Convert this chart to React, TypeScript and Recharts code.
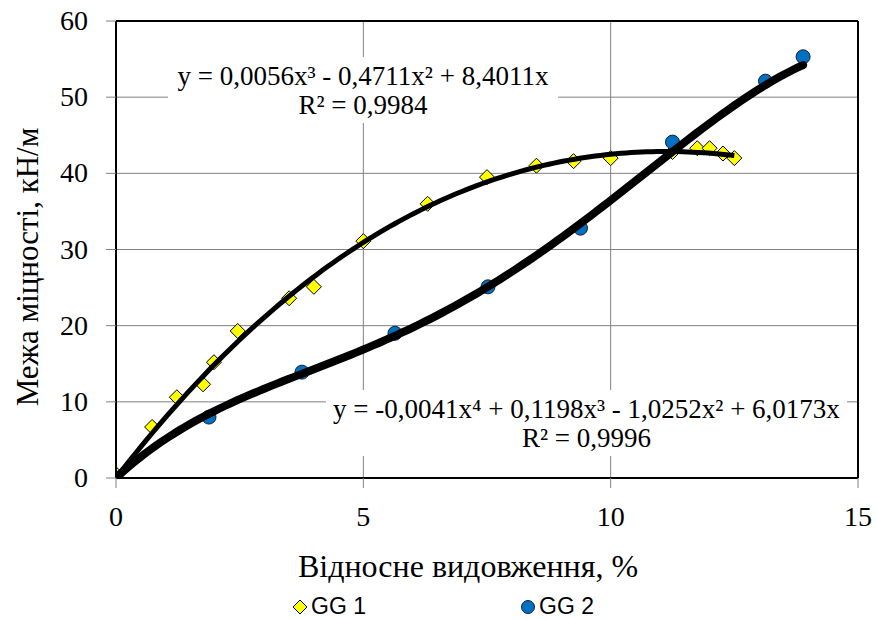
import React from 'react';
import {
  ComposedChart, Line, Scatter, XAxis, YAxis, CartesianGrid, ReferenceLine, Legend,
} from 'recharts';

// measured points
const GG1_X = [0, 0.73, 1.23, 1.76, 1.98, 2.46, 3.5, 4.0, 5.0, 6.3, 7.5, 8.5, 9.25, 10.0, 11.25, 11.75, 12.0, 12.27, 12.5];
const GG1_Y = [0.5, 6.7, 10.6, 12.3, 15.2, 19.3, 23.6, 25.1, 31.1, 36.0, 39.5, 41.0, 41.6, 42.0, 42.8, 43.3, 43.3, 42.6, 42.0];
const GG2_X = [0, 1.88, 3.76, 5.64, 7.52, 9.39, 11.25, 13.13, 13.89];
const GG2_Y = [0, 8.0, 13.9, 19.0, 25.1, 32.8, 44.1, 52.1, 55.3];

// trendline coefficients (c0 + c1*x + c2*x^2 ...), as printed on the chart
const TREND1_COEF = [0, 8.4011, -0.4711, 0.0056];
const TREND1_RANGE = [0, 12.5];
const TREND2_COEF = [0, 6.0173, -1.0252, 0.1198, -0.0041];
const TREND2_RANGE = [0, 13.89];

const X_TICKS = [0, 5, 10, 15];
const Y_TICKS = [0, 10, 20, 30, 40, 50, 60];

const EQ1 = ['y = 0,0056x³ - 0,4711x² + 8,4011x', 'R² = 0,9984'];
const EQ2 = ['y = -0,0041x⁴ + 0,1198x³ - 1,0252x² + 6,0173x', 'R² = 0,9996'];

const SERIF = 'Liberation Serif, serif';
const SANS = 'Liberation Sans, Arial, sans-serif';

const toPoints = (xs: number[], ys: number[]) => xs.map((x, i) => ({ x, y: ys[i] }));

const trendPoints = (coef: number[], range: number[]) => {
  const pts: { x: number; y: number }[] = [];
  const n = 120;
  for (let i = 0; i <= n; i++) {
    const x = range[0] + ((range[1] - range[0]) * i) / n;
    const y = coef.reduce((s, c, k) => s + c * Math.pow(x, k), 0);
    pts.push({ x, y });
  }
  return pts;
};

const gg1 = toPoints(GG1_X, GG1_Y);
const gg2 = toPoints(GG2_X, GG2_Y);
const trend1 = trendPoints(TREND1_COEF, TREND1_RANGE);
const trend2 = trendPoints(TREND2_COEF, TREND2_RANGE);

const Diamond = (props: any) => {
  const { cx, cy } = props;
  const r = 7.5;
  return (
    <polygon
      points={`${cx},${cy - r} ${cx + r},${cy} ${cx},${cy + r} ${cx - r},${cy}`}
      fill="#FFFF00"
      stroke="#000"
      strokeWidth={1}
    />
  );
};

const Dot = (props: any) => {
  const { cx, cy } = props;
  return <circle cx={cx} cy={cy} r={7} fill="#0070C0" stroke="#102040" strokeWidth={1} />;
};

const XTick = ({ x, y, payload }: any) => (
  <text x={x} y={y + 20} textAnchor="middle" style={{ fontFamily: SERIF, fontSize: 28, fill: '#000' }}>
    {payload.value}
  </text>
);

const YTick = ({ x, y, payload }: any) => (
  <text x={x} y={y + 9} textAnchor="end" style={{ fontFamily: SERIF, fontSize: 28, fill: '#000' }}>
    {payload.value}
  </text>
);

const LegendBox = () => (
  <div style={{ position: 'relative', width: 877, height: 30, fontFamily: SANS, fontSize: 23, color: '#000' }}>
    <svg width={16} height={16} style={{ position: 'absolute', left: 292, top: 10 }}>
      <polygon points="8,1 15,8 8,15 1,8" fill="#FFFF00" stroke="#000" strokeWidth={1} />
    </svg>
    <span style={{ position: 'absolute', left: 311, top: 5, lineHeight: '24px' }}>GG 1</span>
    <svg width={16} height={16} style={{ position: 'absolute', left: 520, top: 10 }}>
      <circle cx={8} cy={8} r={6.5} fill="#0070C0" stroke="#102040" strokeWidth={1} />
    </svg>
    <span style={{ position: 'absolute', left: 539, top: 5, lineHeight: '24px' }}>GG 2</span>
  </div>
);

const eqBox = (left: number, top: number, width: number, lines: string[]) => (
  <div
    style={{
      position: 'absolute', left, top, width, background: '#fff',
      fontFamily: SERIF, fontSize: 27, lineHeight: '29px', textAlign: 'center', color: '#000',
      padding: '5px 0 3px',
    }}
  >
    {lines.map((l) => <div key={l}>{l}</div>)}
  </div>
);

export default function App() {
  return (
    <div style={{ position: 'absolute', left: 0, top: 0, width: 877, height: 619, background: '#fff' }}>
      <ComposedChart width={877} height={619} margin={{ top: 21, right: 19, bottom: 0, left: 0 }}>
        <CartesianGrid stroke="#808080" strokeWidth={1} />
        <XAxis
          type="number"
          dataKey="x"
          domain={[0, 15]}
          ticks={X_TICKS}
          allowDataOverflow
          height={111}
          tick={<XTick />}
          tickSize={10}
          tickMargin={18}
          tickLine={{ stroke: '#808080' }}
          axisLine={{ stroke: '#000', strokeWidth: 2 }}
          label={{
            content: () => (
              <text x={468} y={577} textAnchor="middle" style={{ fontFamily: SERIF, fontSize: 32, fill: '#000' }}>
                Відносне видовження, %
              </text>
            ),
          }}
        />
        <YAxis
          type="number"
          dataKey="y"
          domain={[0, 60]}
          ticks={Y_TICKS}
          allowDataOverflow
          width={116}
          tick={<YTick />}
          tickSize={10}
          tickMargin={18}
          tickLine={{ stroke: '#808080' }}
          axisLine={{ stroke: '#000', strokeWidth: 2 }}
          label={{
            content: () => (
              <text
                x={38}
                y={267}
                textAnchor="middle"
                style={{ fontFamily: SERIF, fontSize: 31, fill: '#000' }}
                transform="rotate(-90 38 267)"
              >
                Межа міцності, кН/м
              </text>
            ),
          }}
        />
        <ReferenceLine y={60} stroke="#000" strokeWidth={2} />
        <ReferenceLine x={15} stroke="#000" strokeWidth={2} />
        <Scatter name="GG 1" data={gg1} dataKey="y" shape={Diamond} isAnimationActive={false} zIndex={300} />
        <Scatter name="GG 2" data={gg2} dataKey="y" shape={Dot} isAnimationActive={false} zIndex={300} />
        <Line data={trend1} dataKey="y" type="linear" stroke="#000" strokeWidth={5} dot={false} zIndex={700}
          activeDot={false} legendType="none" isAnimationActive={false} />
        <Line data={trend2} dataKey="y" type="linear" stroke="#000" strokeWidth={8} dot={false} zIndex={700}
          activeDot={false} legendType="none" isAnimationActive={false} strokeLinecap="round" />
        <Legend verticalAlign="bottom" height={30} content={() => <LegendBox />} />
      </ComposedChart>
      {eqBox(168, 57, 390, EQ1)}
      {eqBox(326, 390, 521, EQ2)}
    </div>
  );
}
